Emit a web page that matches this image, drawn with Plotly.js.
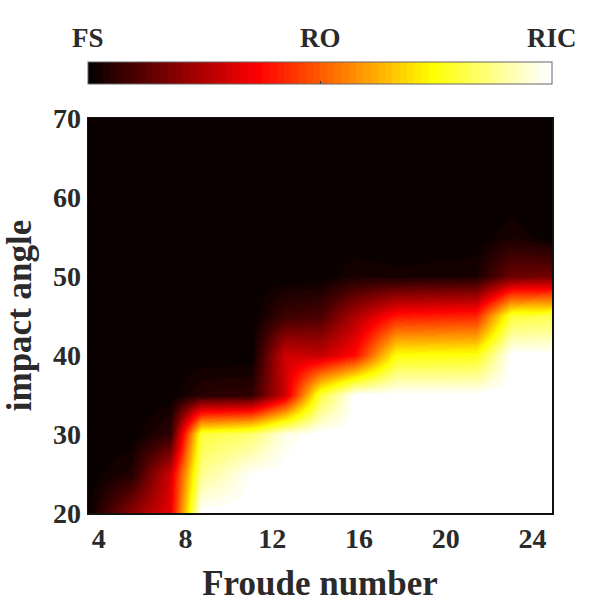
<!DOCTYPE html>
<html>
<head>
<meta charset="utf-8">
<script src="https://cdn.plot.ly/plotly-3.0.1.min.js"></script>
<style>
  html, body { margin: 0; padding: 0; background: #fff; }
  #regime { width: 598px; height: 610px; }
</style>
</head>
<body>
<div id="regime"></div>
<script>
// grid nodes (Froude number along x, impact angle along y)
var froude = [3.5, 5.5, 7.3, 8.7, 11.0, 12.6, 14.2, 15.8, 17.7, 21.4, 23.0, 24.9];
var angle = [20, 25, 30, 35, 40, 45, 50, 55, 60, 65, 70];

// regime index per angle row: 0 = FS, 0.5 = RO, 1 = RIC
var a20 = [0, 0.20, 0.33, 1.00, 1.00, 1.00, 1.00, 1.00, 1.00, 1.00, 1.00, 1.00];
var a25 = [0, 0.04, 0.30, 0.88, 0.99, 1.00, 1.00, 1.00, 1.00, 1.00, 1.00, 1.00];
var a30 = [0, 0.00, 0.06, 0.80, 0.85, 0.97, 1.00, 1.00, 1.00, 1.00, 1.00, 1.00];
var a35 = [0, 0.00, 0.00, 0.05, 0.06, 0.30, 0.80, 1.00, 1.00, 1.00, 1.00, 1.00];
var a40 = [0, 0.00, 0.00, 0.00, 0.00, 0.30, 0.28, 0.38, 0.75, 0.76, 1.00, 1.00];
var a45 = [0, 0.00, 0.00, 0.00, 0.00, 0.08, 0.10, 0.25, 0.40, 0.42, 0.80, 0.82];
var a50 = [0, 0.00, 0.00, 0.00, 0.00, 0.00, 0.00, 0.03, 0.02, 0.03, 0.15, 0.16];
var a55 = [0, 0.00, 0.00, 0.00, 0.00, 0.00, 0.00, 0.00, 0.00, 0.00, 0.03, 0.00];
var a60 = [0, 0, 0, 0, 0, 0, 0, 0, 0, 0, 0, 0];
var a65 = [0, 0, 0, 0, 0, 0, 0, 0, 0, 0, 0, 0];
var a70 = [0, 0, 0, 0, 0, 0, 0, 0, 0, 0, 0, 0];

var regimeNames = ['FS', 'RO', 'RIC'];
var regimeVals = [0, 0.5, 1];
var xTicks = [4, 8, 12, 16, 20, 24];
var yTicks = [20, 30, 40, 50, 60, 70];

// matlab "hot" colormap, 64 steps
function hotScale(m) {
  var n = Math.floor(3 / 8 * m), out = [];
  for (var i = 1; i <= m; i++) {
    var r = Math.min(1, i / n);
    var g = Math.max(0, Math.min(1, (i - n) / n));
    var b = Math.max(0, (i - 2 * n) / (m - 2 * n));
    var c = 'rgb(' + Math.round(r * 255) + ',' + Math.round(g * 255) + ',' + Math.round(b * 255) + ')';
    out.push([(i - 1) / m, c]);
    out.push([i / m, c]);
  }
  return out;
}

var txt = '#2a2a2a';
var serif = 'Liberation Serif, Times New Roman, serif';

var trace = {
  type: 'heatmap',
  x: froude,
  y: angle,
  z: [a20, a25, a30, a35, a40, a45, a50, a55, a60, a65, a70],
  zmin: 0,
  zmax: 1,
  zsmooth: 'best',
  colorscale: hotScale(64),
  hoverinfo: 'skip',
  colorbar: {
    orientation: 'h',
    x: 0.5, xanchor: 'center',
    y: 1.076, yanchor: 'bottom',
    len: 1, lenmode: 'fraction',
    thickness: 22,
    xpad: 0, ypad: 0,
    outlinewidth: 1, outlinecolor: '#666',
    tickvals: [0.5],
    ticks: 'inside', ticklen: 3, tickcolor: '#333',
    showticklabels: false
  }
};

var notes = regimeVals.map(function (v, i) {
  return {
    text: regimeNames[i], xref: 'paper', yref: 'paper',
    x: v, y: 1.2025, xanchor: 'center', yanchor: 'middle',
    showarrow: false,
    font: { family: serif, size: 27, color: txt, weight: 700 }
  };
});

var layout = {
  width: 598, height: 610,
  margin: { l: 88, r: 46, t: 118, b: 97 },
  paper_bgcolor: '#fff',
  plot_bgcolor: '#fff',
  showlegend: false,
  xaxis: {
    range: [3.5, 24.9],
    tickvals: xTicks,
    ticks: '',
    showgrid: false, zeroline: false,
    showline: true, mirror: true, linecolor: '#111', linewidth: 1.5,
    tickfont: { family: serif, size: 28, color: txt, weight: 700 },
    title: { text: 'Froude number', font: { family: serif, size: 35, color: txt, weight: 700 }, standoff: 30 }
  },
  yaxis: {
    range: [20, 70],
    tickvals: yTicks,
    ticks: '',
    showgrid: false, zeroline: false,
    showline: true, mirror: true, linecolor: '#111', linewidth: 1.5,
    tickfont: { family: serif, size: 28, color: txt, weight: 700 },
    title: { text: 'impact angle', font: { family: serif, size: 35, color: txt, weight: 700 }, standoff: 2 }
  },
  annotations: notes
};

Plotly.newPlot('regime', [trace], layout, { displayModeBar: false, staticPlot: true });
</script>
</body>
</html>
